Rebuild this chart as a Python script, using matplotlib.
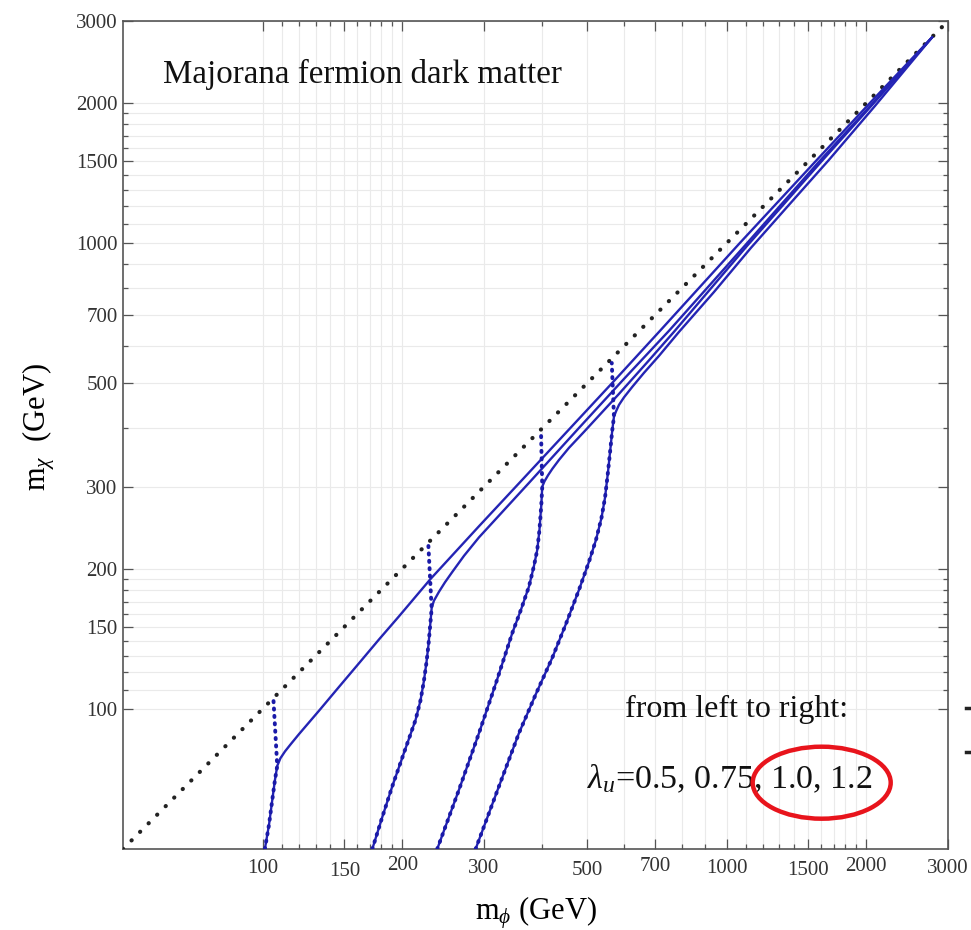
import matplotlib
matplotlib.use("Agg")
import matplotlib.pyplot as plt
import matplotlib.ticker as mticker
from matplotlib.patches import Ellipse
from matplotlib.lines import Line2D
from matplotlib.transforms import ScaledTranslation

plt.rcParams['font.family'] = ['Liberation Serif', 'DejaVu Serif']
plt.rcParams['mathtext.fontset'] = 'custom'
plt.rcParams['mathtext.rm'] = 'Liberation Serif'
plt.rcParams['mathtext.it'] = 'Liberation Serif:italic'

# ---------------- data ----------------
lambdas = ["0.5", "0.75", "1.0", "1.2"]

# diagonal m_chi = m_phi
diag_m = [50, 3000]

# solid relic-density curves (m_phi, m_chi) in GeV
c05_mphi = [101.1, 103.2, 104.9, 106.3, 107.5, 109.2, 111.7, 115.1, 119.7, 132.3, 146.0, 161.3,
            178.1, 196.7, 230.1, 292.6, 356.8, 566, 718.2, 1063, 1550, 2036, 2770]
c05_mchi = [50, 56.4, 63.8, 70.4, 75.4, 78.3, 81.0, 84.1, 88.2, 99.1, 111.4, 125.3,
            140.9, 158.0, 190.1, 246.7, 305, 500.3, 648.1, 996, 1494, 2000, 2765]

c075_mphi = [172.3, 180.8, 190.2, 201.6, 213.6, 218.9, 222.6, 225.4, 227.7, 229.4, 230.7, 231.3,
             233.9, 239.9, 247.1, 256.3, 271.6, 292.6, 374.9, 480.6, 600.8, 750.9, 1084, 1573,
             2057, 2770]
c075_mchi = [50, 58.3, 68.1, 80.4, 94.7, 104.3, 114.8, 125.6, 137.2, 149.3, 159.2, 164.5,
             170.6, 178.4, 186.9, 196.8, 213.1, 233.5, 305.6, 401.1, 511.1, 648.1, 977, 1487,
             1990, 2765]

c10_mphi = [237.8, 264.9, 292.6, 318.4, 345.1, 360.3, 374.9, 384.4, 390.7, 395.0, 398.6, 400.5,
            404.9, 412.0, 420.9, 435.2, 457.2, 492.6, 586.1, 680.0, 769.8, 1106, 1597, 2072, 2770]
c10_mchi = [50, 67.0, 88.7, 113.7, 145.4, 163.2, 183.0, 202.8, 219.5, 242.3, 274.1, 300.1,
            307.9, 317.2, 327.5, 342.4, 363.4, 393.3, 474.6, 560.1, 644.9, 986, 1494, 1995, 2765]

c12_mphi = [287.7, 319.9, 356.8, 388.2, 420.9, 450.5, 480.6, 505.0, 522.9, 537.3, 546.8, 555.0,
            561.9, 567.0, 571.7, 577.5, 586.1, 600.8, 626.0, 663.3, 714.7, 789.5, 939.2, 1128,
            1362, 1661, 2087, 2770]
c12_mchi = [50, 66.4, 88.7, 107.7, 128.7, 152.2, 180.1, 206.9, 230.6, 257.0, 283.8, 322.7,
            363.4, 397.2, 424.1, 435.3, 449.5, 466.5, 491.3, 526.5, 572.7, 644.9, 785.6, 977,
            1208, 1509, 1970, 2765]

# dotted (approximate) curves: steep branch, then vertical up to the diagonal
d05_mphi = [101.1, 103.2, 104.9, 106.3, 107.5, 105.5]
d05_mchi = [50, 56.4, 63.8, 70.4, 75.4, 104.5]

d075_mphi = [172.3, 180.8, 190.2, 201.6, 213.6, 218.9, 222.6, 225.4, 227.7, 229.4, 230.7, 231.3, 227.5]
d075_mchi = [50, 58.3, 68.1, 80.4, 94.7, 104.3, 114.8, 125.6, 137.2, 149.3, 159.2, 164.5, 226]

d10_mphi = [237.8, 264.9, 292.6, 318.4, 345.1, 360.3, 374.9, 384.4, 390.7, 395.0, 398.6, 400.5, 398]
d10_mchi = [50, 67.0, 88.7, 113.7, 145.4, 163.2, 183.0, 202.8, 219.5, 242.3, 274.1, 300.1, 395]

d12_mphi = [287.7, 319.9, 356.8, 388.2, 420.9, 450.5, 480.6, 505.0, 522.9, 537.3, 546.8, 555.0,
            561.9, 567.0, 571.7, 565.5]
d12_mchi = [50, 66.4, 88.7, 107.7, 128.7, 152.2, 180.1, 206.9, 230.6, 257.0, 283.8, 322.7,
            363.4, 397.2, 424.1, 553]

major_ticks = [100, 150, 200, 300, 500, 700, 1000, 1500, 2000, 3000]
grid_vals = list(range(100, 201, 10)) + list(range(300, 2001, 100))

title_text = "Majorana fermion dark matter"
note_line1 = "from left to right:"
note_line2 = r"$\lambda_u$=" + ", ".join(lambdas)

# ---------------- figure ----------------
W, H = 971, 930
fig = plt.figure(figsize=(W / 100, H / 100), dpi=100)
L, R, T, B = 123, 948, 21, 849
ax = fig.add_axes([L / W, 1 - B / H, (R - L) / W, (B - T) / H])
ax.set_xscale('log')
ax.set_yscale('log')
ax.set_xlim(50, 3000)
ax.set_ylim(50, 3000)

blue = '#2424b4'
ax.plot(diag_m, diag_m, color='#222222', lw=3.0, linestyle=(0, (0.05, 2.85)),
        dash_capstyle='round', zorder=3)

solid = [(c05_mphi, c05_mchi), (c075_mphi, c075_mchi), (c10_mphi, c10_mchi), (c12_mphi, c12_mchi)]
dotted = [(d05_mphi, d05_mchi), (d075_mphi, d075_mchi), (d10_mphi, d10_mchi), (d12_mphi, d12_mchi)]
for xs, ys in solid:
    ax.plot(xs, ys, color=blue, lw=1.7, solid_joinstyle='round', zorder=4)
for xs, ys in dotted:
    ax.plot(xs, ys, color='#1a1aa8', lw=2.8, linestyle=(0, (0.3, 1.6)),
            dash_capstyle='round', zorder=5)

# ticks & grid
minor_ticks = [v for v in grid_vals if v not in major_ticks]
for axis in (ax.xaxis, ax.yaxis):
    axis.set_major_locator(mticker.FixedLocator(major_ticks))
    axis.set_minor_locator(mticker.FixedLocator(minor_ticks))
    axis.set_major_formatter(mticker.FuncFormatter(lambda v, p: f"{v:g}"))
    axis.set_minor_formatter(mticker.NullFormatter())

ax.grid(True, which='both', color='#eaeaea', lw=0.85)
ax.set_axisbelow(True)
ax.tick_params(which='both', direction='in', top=True, right=True,
               color='#555555', width=0.9, labelsize=15, labelcolor='#333333')
ax.tick_params(which='major', length=7)
ax.tick_params(which='minor', length=3.5)
ax.tick_params(axis='y', pad=4)
ax.tick_params(axis='x', pad=7)
for s in ax.spines.values():
    s.set_color('#555555')
    s.set_linewidth(1.2)

# slight vertical jitter of x tick labels as in the reference
x_offsets = {150: -3, 200: 3, 500: -2, 700: 2, 1500: -2.5, 2000: 2}
for tick, val in zip(ax.xaxis.get_major_ticks(), major_ticks):
    off = x_offsets.get(val, 0)
    if off:
        tick.label1.set_transform(tick.label1.get_transform() +
                                  ScaledTranslation(0, off / 100, fig.dpi_scale_trans))

ax.set_xlabel(r"m$_\phi$ (GeV)", fontsize=22)
ax.set_ylabel(r"m$_\chi$  (GeV)", fontsize=22)
ax.xaxis.set_label_coords(0.5, -0.055)
ax.yaxis.set_label_coords(-0.08, 0.51)

def axx(px):
    return (px - L) / (R - L)

def axy(py):
    return (B - py) / (B - T)

ax.text(axx(163), axy(83.3), title_text, fontsize=23.8, ha='left', va='baseline',
        transform=ax.transAxes, color='#111111')
ax.text(axx(625), axy(716.7), note_line1, fontsize=23, ha='left', va='baseline',
        transform=ax.transAxes, color='#111111')
ax.text(axx(587.3), axy(788.3), note_line2, fontsize=24.5, ha='left', va='baseline',
        transform=ax.transAxes, color='#111111')

ell = Ellipse((axx(821.7), axy(782.7)), width=138 / (R - L), height=72 / (B - T),
              transform=ax.transAxes, fill=False, edgecolor='#e8141c', lw=3.2,
              zorder=6, clip_on=False)
ax.add_patch(ell)

# cropped legend marks at right edge
for py in (708, 752):
    fig.add_artist(Line2D([966 / W, 1.0], [1 - py / H, 1 - py / H], color='#222222',
                          lw=2.5, transform=fig.transFigure))

fig.savefig("out.png", dpi=100)
